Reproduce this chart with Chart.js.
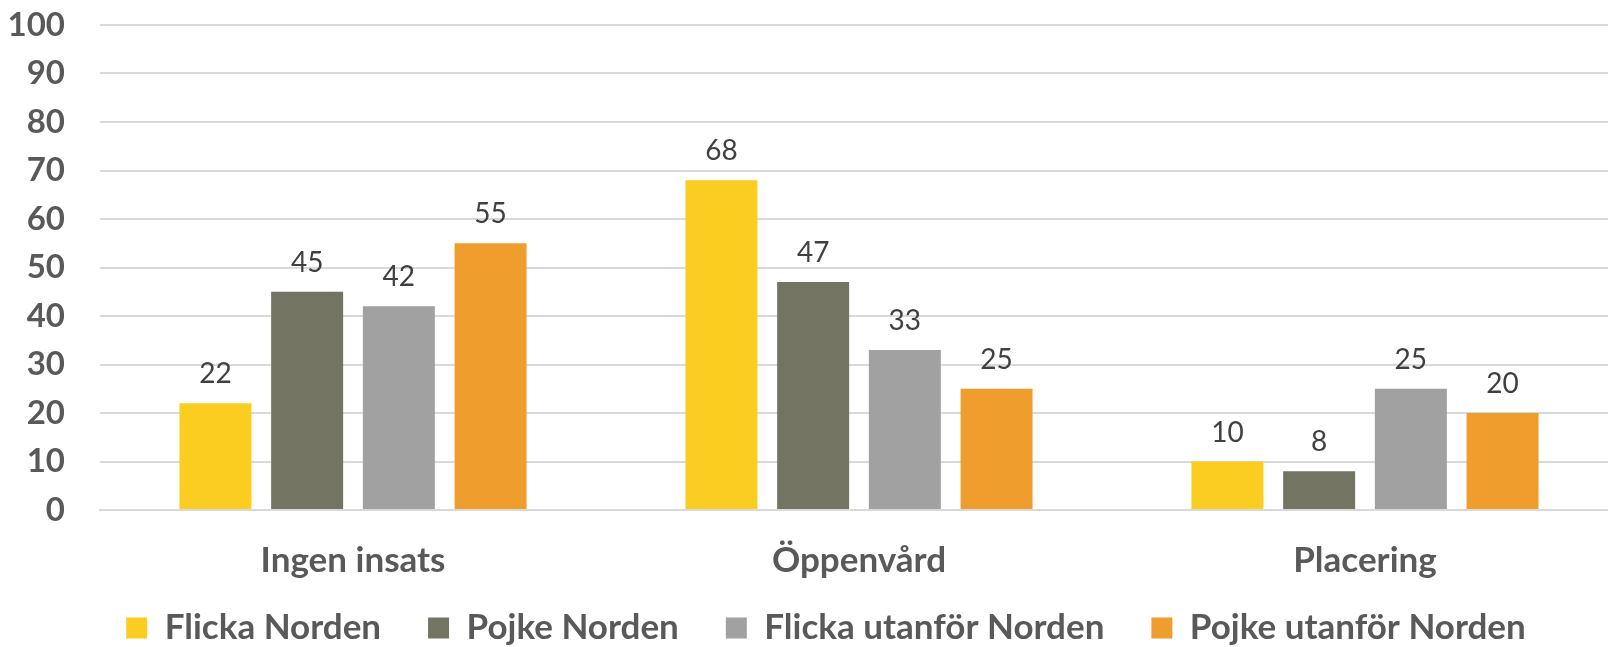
<!DOCTYPE html>
<html>
<head>
<meta charset="utf-8">
<script src="https://cdn.jsdelivr.net/npm/chart.js@4/dist/chart.umd.min.js"></script>
<style>
  html, body { margin: 0; padding: 0; background: #fff; overflow: hidden; }
  #wrap { width: 1608px; height: 647px; overflow: hidden; }
</style>
</head>
<body>
<div id="wrap"><canvas id="chart" width="1620" height="673"></canvas></div>
<script>
// chart data
const categories = ['Ingen insats', 'Öppenvård', 'Placering'];
const flickaNorden = [22, 68, 10];
const pojkeNorden = [45, 47, 8];
const flickaUtanfor = [42, 33, 25];
const pojkeUtanfor = [55, 25, 20];
const yTicks = [0, 10, 20, 30, 40, 50, 60, 70, 80, 90, 100];

const FONT = 'Lato, "Open Sans", sans-serif';

// draws the value above each bar
const valueLabels = {
  id: 'valueLabels',
  afterDatasetsDraw(chart) {
    const ctx = chart.ctx;
    ctx.save();
    ctx.font = '28px ' + FONT;
    ctx.fillStyle = '#404040';
    ctx.textAlign = 'center';
    ctx.textBaseline = 'bottom';
    chart.data.datasets.forEach((ds, i) => {
      chart.getDatasetMeta(i).data.forEach((bar, j) => {
        ctx.fillText(ds.data[j], bar.x, bar.y - 15);
      });
    });
    ctx.restore();
  }
};

// move the legend up/right a bit so it sits like the original
const legendShift = {
  id: 'legendShift',
  afterLayout(chart) {
    const lg = chart.legend;
    lg.left += 34;
    lg.top -= 17.5;
    lg.bottom -= 17.5;
  }
};

new Chart(document.getElementById('chart'), {
  type: 'bar',
  data: {
    labels: categories,
    datasets: [
      { label: 'Flicka Norden', data: flickaNorden, backgroundColor: '#FACD20' },
      { label: 'Pojke Norden', data: pojkeNorden, backgroundColor: '#737461' },
      { label: 'Flicka utanför Norden', data: flickaUtanfor, backgroundColor: '#A1A1A1' },
      { label: 'Pojke utanför Norden', data: pojkeUtanfor, backgroundColor: '#EF9E2E' }
    ]
  },
  options: {
    responsive: false,
    animation: false,
    layout: { padding: { top: 25, right: 2, left: 0, bottom: 0 } },
    datasets: { bar: { categoryPercentage: 0.725, barPercentage: 0.785 } },
    plugins: {
      tooltip: { enabled: false },
      legend: {
        position: 'bottom',
        labels: {
          boxWidth: 21, boxHeight: 21, padding: 47,
          color: '#595959',
          font: { family: FONT, size: 35, weight: 'bold' }
        }
      }
    },
    scales: {
      x: {
        grid: { display: false },
        border: { display: true, color: '#D9D9D9', width: 2 },
        ticks: { color: '#595959', padding: 22, font: { family: FONT, size: 35, weight: 'bold' } },
        afterFit: (s) => { s.height = 71; }
      },
      y: {
        min: 0, max: 100,
        afterBuildTicks: (s) => { s.ticks = yTicks.map(v => ({ value: v })); },
        grid: { color: '#D9D9D9', lineWidth: 2, drawTicks: false },
        border: { display: false },
        ticks: { autoSkip: false, color: '#595959', padding: 35, font: { family: FONT, size: 33, weight: 'bold' } },
        afterFit: (s) => { s.width = 100; s.paddingTop = 0; s.paddingBottom = 0; }
      }
    }
  },
  plugins: [valueLabels, legendShift]
});
</script>
</body>
</html>
